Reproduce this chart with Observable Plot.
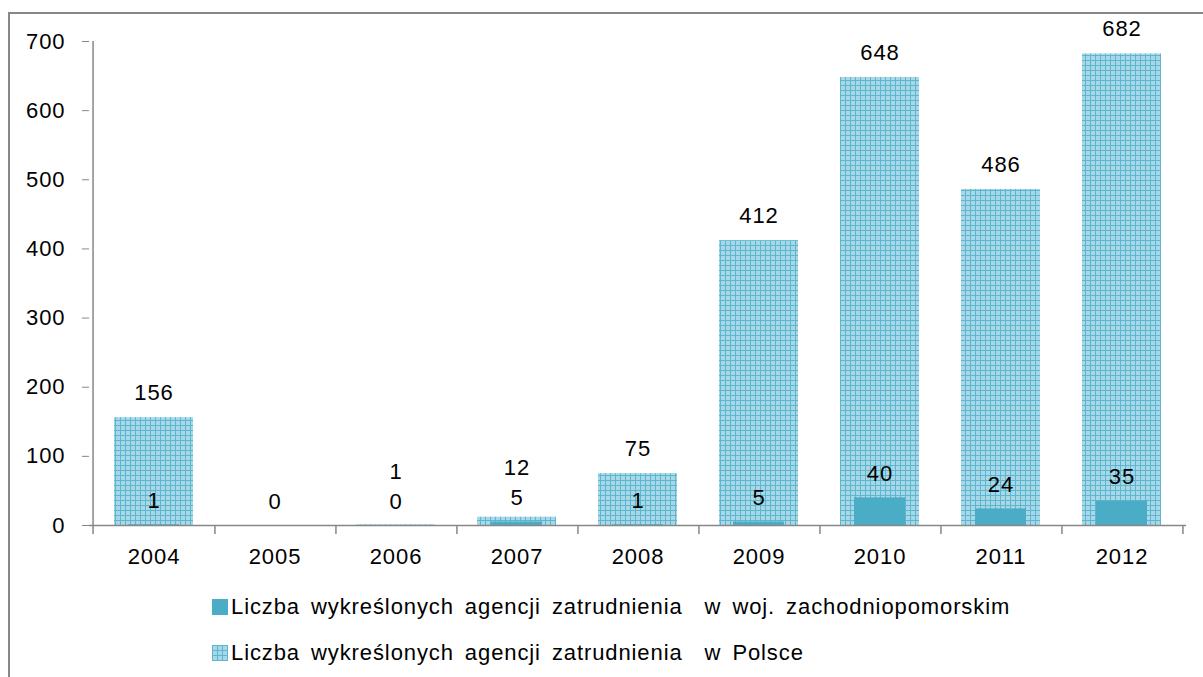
<!DOCTYPE html>
<html>
<head>
<meta charset="utf-8">
<script src="https://cdn.jsdelivr.net/npm/d3@7"></script>
<script src="https://cdn.jsdelivr.net/npm/@observablehq/plot@0.6"></script>
<style>
  html, body { margin: 0; padding: 0; background: #fff; }
  body { width: 1203px; height: 677px; position: relative; overflow: hidden; font-family: "Liberation Sans", Arial, sans-serif; }
  #frame { position: absolute; left: 8px; top: 12px; width: 1300px; height: 800px; border: 2px solid #878787; box-sizing: border-box; }
  #chart { position: absolute; left: 0; top: 0; }
  #chart svg { display: block; }
  .leg { position: absolute; left: 212px; font-size: 22px; letter-spacing: 0.9px; word-spacing: 4px; color: #000; display: flex; align-items: center; white-space: pre; }
  .sw { width: 16px; height: 16px; margin-right: 3px; }
  .sw1 { background: #4bacc6; }
  .sw2 { background-color: #a8d8e7; background-image: linear-gradient(#5cb6cf 1px, transparent 1px), linear-gradient(90deg, #5cb6cf 1px, transparent 1px); background-size: 5px 5px; }
</style>
</head>
<body>
<div id="frame"></div>
<div id="chart"></div>
<div class="leg" style="top:594px"><div class="sw sw1"></div><span id="l1"></span></div>
<div class="leg" style="top:640px"><div class="sw sw2"></div><span id="l2"></span></div>
<script>
const years = ["2004","2005","2006","2007","2008","2009","2010","2011","2012"];
const polska = [156, 0, 1, 12, 75, 412, 648, 486, 682];
const zachodniopomorskie = [1, 0, 0, 5, 1, 5, 40, 24, 35];
const seriesNames = [
  "Liczba wykreślonych agencji zatrudnienia  w woj. zachodniopomorskim",
  "Liczba wykreślonych agencji zatrudnienia  w Polsce"
];
const yTicks = [0, 100, 200, 300, 400, 500, 600, 700];

document.getElementById("l1").textContent = seriesNames[0];
document.getElementById("l2").textContent = seriesNames[1];

const W = 1203, H = 580, mL = 89, mR = 17, mT = 41, mB = 55;
const step = (W - mL - mR) / years.length;
const yPx = d3.scaleLinear([0, 700], [H - mB, mT]);

const rowsP = years.map((y, i) => ({year: y, value: polska[i]}));
const rowsZ = years.map((y, i) => ({year: y, value: zachodniopomorskie[i]}));

// label positions (avoid overlap like the original)
const labels = [];
years.forEach((y, i) => {
  const zp = yPx(zachodniopomorskie[i]) - 24;
  let pp = yPx(polska[i]) - 25;
  if (polska[i] !== zachodniopomorskie[i]) {
    if (pp > zp - 30) pp = zp - 30;
    labels.push({year: y, y: yPx.invert(pp), text: String(polska[i])});
  }
  labels.push({year: y, y: yPx.invert(zp), text: String(zachodniopomorskie[i])});
});

const axisColor = "#878787";
const tickBottom = yPx.invert(H - mB + 9);
const txtStyle = {fontSize: 22, fill: "#000"};

const chart = Plot.plot({
  width: W, height: H,
  marginLeft: mL, marginRight: mR, marginTop: mT, marginBottom: mB,
  style: {fontFamily: "'Liberation Sans', Arial, sans-serif", fontSize: "22px", letterSpacing: "0.9px", color: "#000", background: "transparent", overflow: "visible"},
  x: {domain: years, paddingInner: 0.344, paddingOuter: 0.172, label: null, tickSize: 0, tickPadding: 23},
  y: {domain: [0, 700], ticks: yTicks, label: null, axis: null},
  marks: [
    Plot.barY(rowsP, {x: "year", y: "value", fill: "url(#gridpat)"}),
    Plot.barY(rowsZ, {x: "year", y: "value", fill: "#4bacc6", insetLeft: 14, insetRight: 14}),
    Plot.axisY({ticks: yTicks, tickSize: 7, tickPadding: 17, stroke: axisColor, fill: "#000", fontSize: 22, label: null}),
    Plot.ruleY([0], {stroke: axisColor, strokeWidth: 1.5}),
    Plot.ruleX(years, {x: d => d, y1: 0, y2: tickBottom, dx: step / 2, stroke: axisColor, strokeWidth: 1.5}),
    Plot.ruleX([years[0]], {x: d => d, y1: 700, y2: tickBottom, dx: -step / 2, stroke: axisColor, strokeWidth: 1.5}),
    Plot.text(labels, {x: "year", y: "y", text: "text", ...txtStyle})
  ]
});

const ns = "http://www.w3.org/2000/svg";
const defs = document.createElementNS(ns, "defs");
defs.innerHTML = '<pattern id="gridpat" patternUnits="userSpaceOnUse" width="5" height="5">' +
  '<rect width="5" height="5" fill="#a8d8e7"/>' +
  '<path d="M0 0.5H5M0.5 0V5" stroke="#5cb6cf" stroke-width="1"/></pattern>';
chart.insertBefore(defs, chart.firstChild);
document.getElementById("chart").appendChild(chart);
</script>
</body>
</html>
